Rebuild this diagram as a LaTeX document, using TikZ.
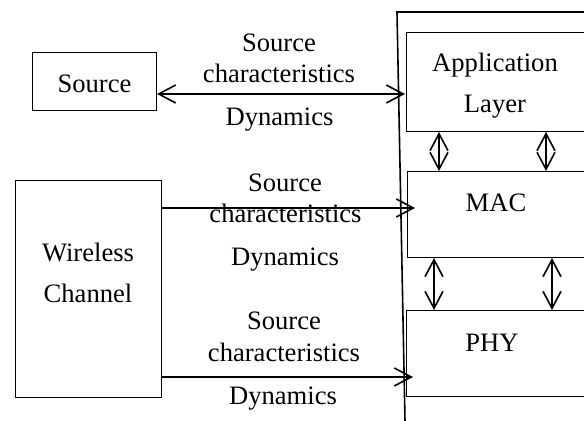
\documentclass[tikz,border=0pt]{standalone}
\usepackage{fontspec}
\setmainfont{Liberation Serif}
\usetikzlibrary{arrows.meta}
\tikzset{
  box/.style={draw, line width=0.5pt, inner sep=0pt, anchor=north west},
  txt/.style={anchor=base, inner sep=0pt, font=\fontsize{13.3}{16}\selectfont},
  barb/.tip={Straight Barb[length=8.5pt,width=9pt]},
  link/.style={line width=0.8pt, -barb},
  twoway/.style={line width=0.8pt, barb-barb},
}
\begin{document}
\begin{tikzpicture}[x=0.5pt,y=-0.5pt]
\clip (0,0) rectangle (584,421);
% layer stack
\draw[line width=0.8pt] (620,12)--(397,12)--(405,421);
\node[box, minimum width=97pt, minimum height=49.5pt] (app) at (406,32) {};
\node[box, minimum width=96.5pt, minimum height=43pt] (mac) at (407,171) {};
\node[box, minimum width=97pt, minimum height=43pt] (phy) at (406,310) {};
\node[txt] (appa) at (495,72) {Application};
\node[txt] (appb) at (495,113) {Layer};
\node[txt] (mact) at (496,212) {MAC};
\node[txt] (phyt) at (492,352) {PHY};
\draw[twoway] (app.south -| 439,0)--(mac.north -| 439,0);
\draw[twoway] (app.south -| 546,0)--(mac.north -| 546,0);
\draw[twoway] (mac.south -| 434,0)--(phy.north -| 434,0);
\draw[twoway] (mac.south -| 552,0)--(phy.north -| 552,0);
% left side
\node[box, minimum width=62pt, minimum height=29pt] (src) at (32,52) {};
\node[txt] (srct) at (94.5,93) {Source};
\node[box, minimum width=73pt, minimum height=108.5pt] (wc) at (15,180) {};
\node[txt] (wca) at (88,262) {Wireless};
\node[txt] (wcb) at (88,303) {Channel};
\coordinate (a1) at (405,94);
\coordinate (b1) at (415,208);
\coordinate (c1) at (413,377);
\draw[twoway] (src.east |- a1)--(a1);
\draw[link] (wc.east |- b1)--(b1);
\draw[link] (wc.east |- c1)--(c1);
% labels
\node[txt] (l1a) at (279,52) {Source};
\node[txt] (l1b) at (279,83) {characteristics};
\node[txt] (l1c) at (279.5,126) {Dynamics};
\node[txt] (l2a) at (285,192) {Source};
\node[txt] (l2b) at (285.5,223) {characteristics};
\node[txt] (l2c) at (285,266) {Dynamics};
\node[txt] (l3a) at (284,330) {Source};
\node[txt] (l3b) at (284,362) {characteristics};
\node[txt] (l3c) at (283,405) {Dynamics};
\end{tikzpicture}
\end{document}
